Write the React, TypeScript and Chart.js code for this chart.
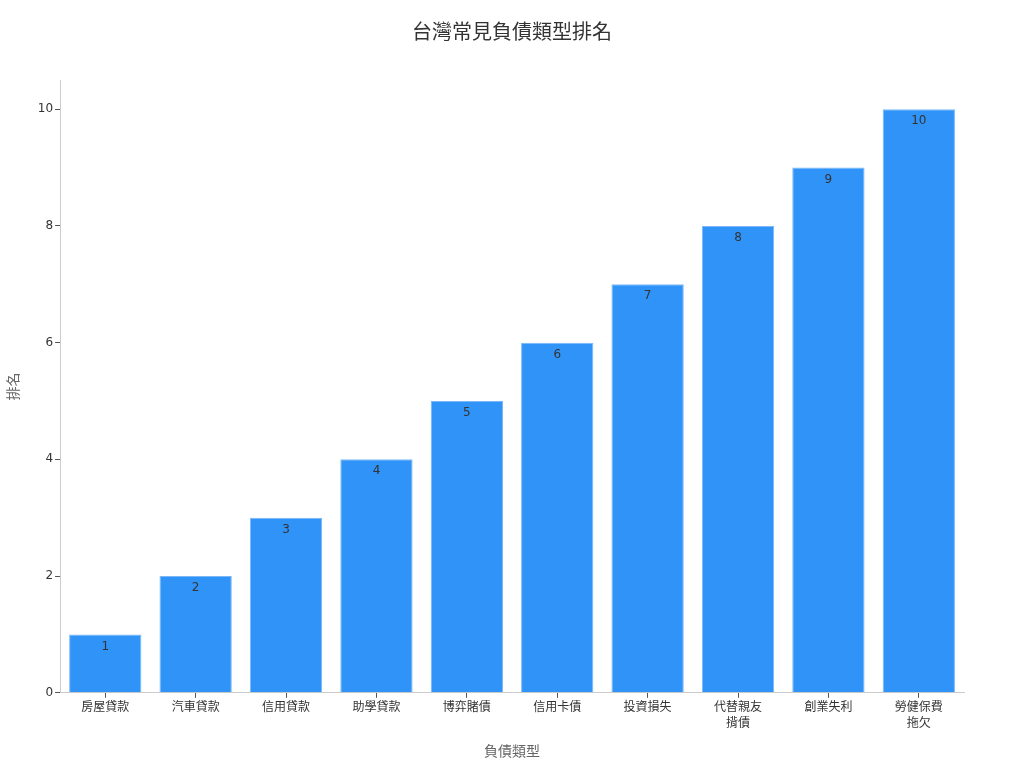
import { useEffect, useRef } from 'react';
import { Chart, registerables, Plugin } from 'chart.js';

Chart.register(...registerables);

const chartTitle = '台灣常見負債類型排名';
const categories: (string | string[])[] = [
  '房屋貸款',
  '汽車貸款',
  '信用貸款',
  '助學貸款',
  '博弈賭債',
  '信用卡債',
  '投資損失',
  ['代替親友', '揹債'],
  '創業失利',
  ['勞健保費', '拖欠'],
];
const ranks = [1, 2, 3, 4, 5, 6, 7, 8, 9, 10];

const FONT = "'DejaVu Sans', 'Noto Sans CJK TC', sans-serif";

// title centred on the whole canvas, values just under each bar top
const decorations: Plugin<'bar'> = {
  id: 'decorations',
  afterDatasetsDraw(chart) {
    const { ctx } = chart;
    const meta = chart.getDatasetMeta(0);
    ctx.save();
    ctx.fillStyle = '#333333';
    ctx.font = `12px ${FONT}`;
    ctx.textAlign = 'center';
    ctx.textBaseline = 'top';
    meta.data.forEach((bar, i) => {
      ctx.fillText(String(ranks[i]), bar.x, bar.y + 6);
    });
    ctx.font = `20px ${FONT}`;
    ctx.textBaseline = 'middle';
    ctx.fillText(chartTitle, chart.width / 2, 34);
    ctx.restore();
  },
};

export default function App() {
  const canvasRef = useRef<HTMLCanvasElement>(null);
  const chartRef = useRef<Chart<'bar'> | null>(null);

  useEffect(() => {
    document.body.style.margin = '0';
    if (!canvasRef.current) return;
    if (chartRef.current) chartRef.current.destroy();

    chartRef.current = new Chart(canvasRef.current, {
      type: 'bar',
      data: {
        labels: categories,
        datasets: [
          {
            label: '排名',
            data: ranks,
            backgroundColor: '#3093f8',
            borderColor: '#7ab8f7',
            borderWidth: 1,
            categoryPercentage: 0.8,
            barPercentage: 1,
          },
        ],
      },
      options: {
        responsive: true,
        maintainAspectRatio: false,
        animation: false,
        layout: { padding: { left: 6, right: 60, top: 80, bottom: 7 } },
        plugins: {
          legend: { display: false },
          tooltip: { enabled: false },
          title: { display: false },
        },
        scales: {
          x: {
            grid: {
              display: true,
              offset: false,
              drawOnChartArea: false,
              drawTicks: true,
              tickLength: 5,
              color: '#555555',
            },
            border: { display: true, color: '#cccccc' },
            ticks: {
              color: '#333333',
              font: { size: 12, family: FONT, lineHeight: 1.35 },
              padding: 2,
              maxRotation: 0,
              autoSkip: false,
            },
            title: {
              display: true,
              text: '負債類型',
              color: '#666666',
              font: { size: 14, family: FONT },
              padding: { top: 10, bottom: 0 },
            },
          },
          y: {
            min: 0,
            max: 10.5,
            afterBuildTicks: (axis) => {
              axis.ticks = axis.ticks.filter((t) => t.value % 2 === 0);
            },
            grid: {
              display: true,
              drawOnChartArea: false,
              drawTicks: true,
              tickLength: 5,
              color: '#555555',
            },
            border: { display: true, color: '#cccccc' },
            ticks: {
              stepSize: 2,
              color: '#333333',
              font: { size: 12, family: FONT },
              padding: 2,
            },
            title: {
              display: true,
              text: '排名',
              color: '#666666',
              font: { size: 14, family: FONT },
              padding: { top: 0, bottom: 13 },
            },
          },
        },
      },
      plugins: [decorations],
    });

    return () => {
      if (chartRef.current) {
        chartRef.current.destroy();
        chartRef.current = null;
      }
    };
  }, []);

  return (
    <div style={{ width: 1024, height: 768 }}>
      <canvas ref={canvasRef} />
    </div>
  );
}
